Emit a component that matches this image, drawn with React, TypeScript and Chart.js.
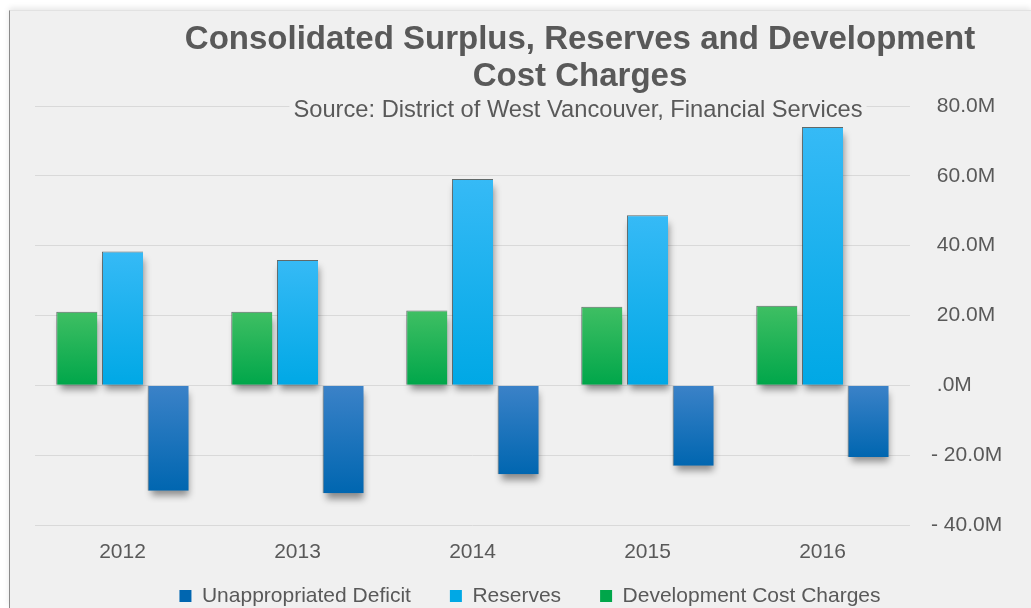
import { useEffect, useRef } from 'react';
import { Chart, registerables } from 'chart.js';

Chart.register(...registerables);

const years = ['2012', '2013', '2014', '2015', '2016'];
const developmentCostCharges = [21.1, 21.1, 21.4, 22.5, 22.8];
const reserves = [38.3, 35.9, 59.1, 48.7, 74.0];
const unappropriatedDeficit = [-30.2, -30.9, -25.5, -23.0, -20.5];
const yMin = -40;
const yMax = 80;
const yStep = 20;
const titleLines = ['Consolidated Surplus, Reserves and Development', 'Cost Charges'];
const subtitleText = 'Source: District of West Vancouver, Financial Services';

const FONT = '"Liberation Sans", Arial, sans-serif';
const TEXT = '#595959';

const fmt = (v: number) => (v < 0 ? '- ' : ' ') + (v === 0 ? '.0' : Math.abs(v).toFixed(1)) + 'M';

const grad = (top: string, bottom: string, mid: string) => (ctx: any) => {
  const chart = ctx.chart;
  const y = chart.scales?.y;
  if (!chart.chartArea || ctx.type !== 'data' || !y) return mid;
  const v = ctx.raw as number;
  const y0 = y.getPixelForValue(Math.max(v, 0));
  const y1 = y.getPixelForValue(Math.min(v, 0));
  if (!isFinite(y0) || !isFinite(y1) || y0 === y1) return mid;
  const g = chart.ctx.createLinearGradient(0, y0, 0, y1);
  g.addColorStop(0, top);
  g.addColorStop(1, bottom);
  return g;
};

// soft drop shadow under each bar (drawn before the bars, from the bar elements' own geometry)
const barShadow = {
  id: 'barShadow',
  beforeDatasetsDraw(chart: any) {
    const c = chart.ctx;
    chart.data.datasets.forEach((_: any, i: number) => {
      const meta = chart.getDatasetMeta(i);
      meta.data.forEach((el: any) => {
        const { x, y, base, width } = el.getProps(['x', 'y', 'base', 'width'], true);
        const top = Math.min(y, base);
        const h = Math.abs(base - y);
        c.save();
        c.shadowColor = 'rgba(0,0,0,0.42)';
        c.shadowBlur = 7;
        c.shadowOffsetX = 2;
        c.shadowOffsetY = 6;
        c.fillStyle = '#b0b0b0';
        c.fillRect(x - width / 2 + 1.5, top + 1.5, width - 3, h - 2);
        c.restore();
      });
    });
  },
};

const legendShift = {
  id: 'legendShift',
  afterLayout(chart: any) {
    const lg = chart.legend;
    if (!lg) return;
    lg.top = chart.chartArea.bottom + 21.5;
    lg.bottom = chart.height;
    lg.height = lg.bottom - lg.top;
  },
};

const titleDraw = {
  id: 'titleDraw',
  afterDraw(chart: any) {
    const c = chart.ctx;
    const cx = 580;
    c.save();
    c.fillStyle = TEXT;
    c.textAlign = 'center';
    c.textBaseline = 'alphabetic';
    c.font = `bold 33px ${FONT}`;
    c.fillText(titleLines[0], cx, 49);
    c.fillText(titleLines[1], cx, 86);
    c.font = `23.7px ${FONT}`;
    const w = c.measureText(subtitleText).width;
    c.fillStyle = '#f0f0f0';
    c.fillRect(cx - 2 - w / 2 - 4, 98, w + 8, 24);
    c.fillStyle = TEXT;
    c.fillText(subtitleText, cx - 2, 117);
    c.restore();
  },
};

export default function App() {
  const ref = useRef<HTMLCanvasElement>(null);
  useEffect(() => {
    if (!ref.current) return;
    const border = 'rgba(50,60,60,0.75)';
    const common = {
      categoryPercentage: 0.783,
      barPercentage: 0.9,
      borderWidth: { top: 1, left: 1, right: 0, bottom: 0 },
      borderColor: border,
      borderSkipped: 'start',
    };
    const chart = new Chart(ref.current, {
      type: 'bar',
      data: {
        labels: years,
        datasets: [
          {
            label: 'Development Cost Charges',
            data: developmentCostCharges,
            backgroundColor: grad('#3fbf63', '#00a64a', '#1eae52'),
            ...common,
          },
          {
            label: 'Reserves',
            data: reserves,
            backgroundColor: grad('#36baf6', '#00a8e5', '#1aafe9'),
            ...common,
          },
          {
            label: 'Unappropriated Deficit',
            data: unappropriatedDeficit,
            backgroundColor: grad('#3b82c8', '#0066b0', '#1a70bb'),
            ...common,
          },
        ] as any,
      },
      options: {
        animation: false,
        responsive: false,
        maintainAspectRatio: false,
        layout: { padding: { left: 35, right: 6, top: 106, bottom: 0 } },
        scales: {
          x: {
            grid: { display: false },
            border: { display: false },
            ticks: { color: TEXT, font: { family: FONT, size: 21 }, padding: 7 },
            afterFit: (s: any) => {
              s.height = 40;
            },
          },
          y: {
            position: 'right',
            min: yMin,
            max: yMax,
            grid: { color: '#d9d9d9', lineWidth: 1, drawTicks: false },
            border: { display: false },
            ticks: {
              stepSize: yStep,
              color: TEXT,
              font: { family: FONT, size: 21 },
              padding: 21,
              callback: (v: any) => fmt(Number(v)),
            },
            afterFit: (s: any) => {
              s.width = 115;
            },
          },
        },
        plugins: {
          title: { display: false },
          tooltip: { enabled: false },
          legend: {
            position: 'bottom',
            reverse: true,
            maxHeight: 43,
            labels: {
              color: TEXT,
              font: { family: FONT, size: 21 },
              boxWidth: 12,
              boxHeight: 12,
              padding: 39,
              generateLabels: (ch: any) =>
                Chart.defaults.plugins.legend.labels
                  .generateLabels(ch)
                  .map((l: any) => ({ ...l, lineWidth: 0, strokeStyle: 'rgba(0,0,0,0)' })),
            },
          },
        },
      } as any,
      plugins: [barShadow, legendShift, titleDraw],
    });
    return () => chart.destroy();
  }, []);

  return (
    <div style={{ position: 'fixed', left: 0, top: 0, width: 1031, height: 608, background: '#ffffff', overflow: 'hidden' }}>
      <div
        style={{
          position: 'absolute',
          left: 9,
          top: 10,
          right: 0,
          bottom: 0,
          background: '#f0f0f0',
          borderLeft: '1px solid #8a8a8a',
          borderTop: '1px solid #e2e2e2',
          boxShadow: '0 -2px 6px rgba(0,0,0,0.10)',
        }}
      />
      <canvas ref={ref} width={1031} height={608} style={{ position: 'absolute', left: 0, top: 0, width: 1031, height: 608 }} />
    </div>
  );
}
